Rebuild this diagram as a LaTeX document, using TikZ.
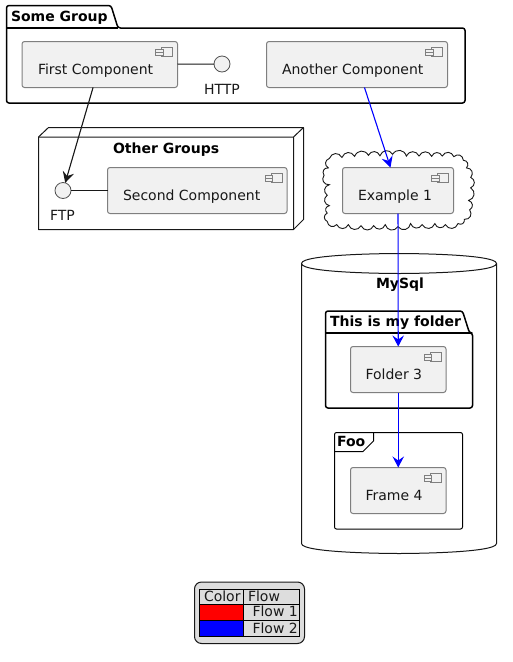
\documentclass[tikz,border=0pt]{standalone}
\usepackage{fontspec}
\setmainfont{DejaVu Sans}
\usetikzlibrary{arrows.meta}
\definecolor{compfill}{HTML}{F1F1F1}
\definecolor{compline}{HTML}{7F7F7F}
\definecolor{ink}{HTML}{181818}
\definecolor{legfill}{HTML}{DDDDDD}
\tikzset{
  every node/.style={inner sep=0pt,outer sep=0pt,font=\fontsize{14}{16}\selectfont,text=ink},
  box/.style={draw=ink,line width=1pt,line join=round},
  pkg/.style={draw=black,line width=1.5pt,line join=round,rounded corners=2.5pt},
  comp/.style={draw=compline,fill=compfill,line width=1pt,rounded corners=2.5pt,rectangle},
  iface/.style={circle,draw=ink!75,fill=compfill,line width=.8pt,minimum size=16pt},
  txt/.style={anchor=base west},
  title/.style={anchor=base west,font=\fontsize{14}{16}\selectfont\bfseries,text=black},
  link/.style={draw=ink,line width=1pt},
  flow/.style={line width=1.1pt,-{Stealth[length=11pt,width=11.5pt,inset=4pt]}},
  bump/.style={bend left=65,looseness=1.3},
}
\newcommand{\compbox}[7]{% name, x1,y1,x2,y2, label, label x
  \node[comp,minimum width=#4pt-#2pt,minimum height=#5pt-#3pt] (#1) at ({(#2+#4)/2},{(#3+#5)/2}) {};
  \node[txt] (#1label) at (#7,#3+32.5) {#6};
  \draw[compline,line width=.9pt,fill=compfill] (#4-12.5-3.5,#3+5.5) rectangle (#4-5,#3+15);
  \draw[compline,line width=.9pt,fill=compfill] (#4-22,#3+7.5) rectangle (#4-14.5,#3+10.5);
  \draw[compline,line width=.9pt,fill=compfill] (#4-22,#3+11) rectangle (#4-14.5,#3+14);
}
\begin{document}
\begin{tikzpicture}[x=1pt,y=-1pt]
\useasboundingbox (0,0) rectangle (512,662);
% Some Group
\draw[pkg] (6.5,28) -- (6.5,5.5) -- (111,5.5) -- (118,28) -- (465,28) -- (465,103) -- (6.5,103) -- cycle;
\draw[black,line width=1.5pt] (6.5,28) -- (118,28);
\node[title] (somegroup) at (11,21) {Some Group};
\compbox{first}{22}{41.5}{177.5}{87.5}{First Component}{38}
\node[iface] (http) at (222,64) {};
\node[txt] (httplabel) at (204,94) {HTTP};
\compbox{another}{266.5}{41.5}{447.5}{87.5}{Another Component}{282}
% Other Groups
\draw[box] (38.5,137) -- (48.5,127.5) -- (303.5,127.5) -- (303.5,219.5) -- (293.5,229.5) -- (38.5,229.5) -- cycle;
\draw[box] (38.5,137) -- (293.5,137) -- (293.5,229.5) (293.5,137) -- (303.5,127.5);
\node[title] (othergroups) at (113,153) {Other Groups};
\node[iface] (ftp) at (63,190.5) {};
\node[txt] (ftplabel) at (50,220) {FTP};
\compbox{second}{107.5}{167.5}{287}{213.5}{Second Component}{123}
% Cloud
\begin{scope}[shift={(399.5,191)},xscale=1.055,yscale=1.05,shift={(-399.5,-191)}]
\draw[draw=ink,line width=.9pt,fill=white]
 (333,160) to[bump] (345,159) to[bump] (357,158) to[bump] (370,157) to[bump] (381,157.5)
 to[bump] (393,156) to[bump] (406,157.7) to[bump] (418,157.7) to[bump] (430,158)
 to[bump] (440,157.7) to[bump] (451,158.3) to[bump] (460,161.7)
 to[bump] (463,169) to[bump] (467,178) to[bump] (467,188) to[bump] (465,200)
 to[bump] (466,209) to[bump] (461,218)
 to[bump] (455,222) to[bump] (443,223) to[bump] (433,222) to[bump] (421,223)
 to[bump] (410,222) to[bump] (398,225) to[bump] (386,223) to[bump] (375,224)
 to[bump] (363,224) to[bump] (351,223) to[bump] (340,223) to[bump] (331,220)
 to[bump] (331,212) to[bump] (333,205) to[bump] (331,195) to[bump] (333,185)
 to[bump] (328,176) to[bump] (332,169) to[bump] (333,160) -- cycle;
\end{scope}
\compbox{example}{342.5}{167.5}{453.5}{213.5}{Example 1}{358}
% MySql
\draw[box,fill=white,draw=ink] (301.5,263.5) .. controls (301.5,253.5) and (399,253.5) .. (399,253.5)
  .. controls (399,253.5) and (496.5,253.5) .. (496.5,263.5) -- (496.5,543.5)
  .. controls (496.5,553.5) and (399,553.5) .. (399,553.5)
  .. controls (399,553.5) and (301.5,553.5) .. (301.5,543.5) -- cycle;
\draw[box] (301.5,263.5) .. controls (301.5,273.5) and (399,273.5) .. (399,273.5)
  .. controls (399,273.5) and (496.5,273.5) .. (496.5,263.5);
\node[title] (mysql) at (376,288) {MySql};
% Folder
\draw[pkg] (325.5,333) -- (325.5,311) -- (462.5,311) -- (469.5,333) -- (472.5,333) -- (472.5,408) -- (325.5,408) -- cycle;
\draw[black,line width=1.5pt] (325.5,333) -- (471,333);
\node[title] (folderttl) at (330,326) {This is my folder};
\compbox{folder}{350.5}{346.5}{446}{392.5}{Folder 3}{365.5}
% Frame
\draw[box,rounded corners=2pt,draw=black] (334.5,432.5) rectangle (462.5,529);
\draw[box,draw=black] (334.5,451.5) -- (363,451.5) -- (373.5,441) -- (373.5,432.5);
\node[title] (foo) at (337,446) {Foo};
\compbox{frame}{350.5}{467.5}{446}{513.5}{Frame 4}{365.5}
% Links
\draw[link] (first) -- (http);
\draw[link] (ftp) -- (second);
\draw[flow,draw=ink,fill=ink] (first) -- (ftp);
\draw[flow,blue] (another) -- (example);
\draw[flow,blue] (example) -- (folder);
\draw[flow,blue] (folder) -- (frame);
% Legend
\draw[draw=ink,line width=1pt,fill=legfill,rounded corners=7pt] (194.5,582) rectangle (304.5,643.5);
\fill[red] (199.5,604.5) rectangle (243.5,620.5);
\fill[blue] (199.5,620.5) rectangle (243.5,636);
\draw[black,line width=1pt] (199.5,589) rectangle (299.5,636)
  (199.5,604.5) -- (299.5,604.5) (199.5,620.5) -- (299.5,620.5) (243.5,589) -- (243.5,636);
\node[txt] (lgcolor) at (204,601) {Color};
\node[txt] (lgflow) at (248,601) {Flow};
\node[txt] (lgone) at (252.5,616.7) {Flow 1};
\node[txt] (lgtwo) at (252.5,633) {Flow 2};
\end{tikzpicture}
\end{document}
